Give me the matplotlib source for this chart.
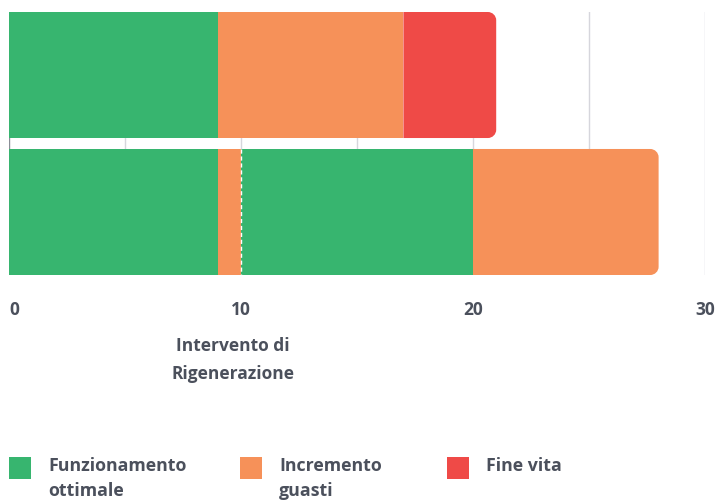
import matplotlib
matplotlib.use("Agg")
import matplotlib.pyplot as plt
from matplotlib.path import Path
from matplotlib.patches import PathPatch, Rectangle
import matplotlib.transforms as mtransforms

plt.rcParams["font.family"] = ["Open Sans", "DejaVu Sans"]

# ---- data ----
rows = ["Senza rigenerazione", "Con rigenerazione"]
# (start, length, category) per segment
segments = [
    [(0, 9, 0), (9, 8, 1), (17, 4, 2)],
    [(0, 9, 0), (9, 1, 1), (10, 10, 0), (20, 8, 1)],
]
categories = ["Funzionamento\nottimale", "Incremento\nguasti", "Fine vita"]
colors = ["#37b56f", "#f69159", "#ef4a47"]
regen_x = 10
regen_label = "Intervento di\nRigenerazione"
tick_vals = [0, 10, 20, 30]

TXT = "#4b505c"
GRID = "#d6d6dc"
H = 0.92
FW = "bold"
FS = 12.5

fig = plt.figure(figsize=(7.15, 5.02), dpi=100)
ax = fig.add_axes([9 / 715, 1 - 276 / 502, 696 / 715, 263 / 502])
ax.set_xlim(0, 30)
ax.set_ylim(1 + 0.46, -0.46)


def rounded_end(x0, w, yc, h, rx=0.36, ry=0.06):
    x1 = x0 + w
    y0, y1 = yc - h / 2, yc + h / 2
    k = 0.45
    verts = [(x0, y0), (x1 - rx, y0),
             (x1 - rx * k, y0), (x1, y0 + ry * k), (x1, y0 + ry),
             (x1, y1 - ry),
             (x1, y1 - ry * k), (x1 - rx * k, y1), (x1 - rx, y1),
             (x0, y1), (x0, y0)]
    codes = [Path.MOVETO, Path.LINETO,
             Path.CURVE4, Path.CURVE4, Path.CURVE4,
             Path.LINETO,
             Path.CURVE4, Path.CURVE4, Path.CURVE4,
             Path.LINETO, Path.CLOSEPOLY]
    return Path(verts, codes)


for i, segs in enumerate(segments):
    for j, (start, length, cat) in enumerate(segs):
        if j == len(segs) - 1:
            ax.add_patch(PathPatch(rounded_end(start, length, i, H),
                                   facecolor=colors[cat], edgecolor="none", zorder=2))
        else:
            ax.barh(i, length, left=start, height=H, color=colors[cat],
                    edgecolor="none", zorder=2)

# regeneration marker on second bar
ax.vlines(regen_x, 1 - H / 2, 1 + H / 2, color="white", lw=1.0,
          linestyles=(0, (3, 2)), zorder=3)

# grid
for gx in range(0, 31, 5):
    ax.axvline(gx, color="#8a8d96" if gx == 0 else GRID, lw=1.0, zorder=1)

for s in ax.spines.values():
    s.set_visible(False)
ax.set_yticks([])
ax.set_xticks(tick_vals)
ax.set_xticklabels([str(v) for v in tick_vals])
ax.tick_params(axis="x", length=0, pad=18, labelsize=FS, labelcolor=TXT)
for lbl in ax.get_xticklabels():
    lbl.set_fontweight(FW)
ax.get_xticklabels()[0].set_horizontalalignment("left")

trans = mtransforms.blended_transform_factory(ax.transData, fig.transFigure)
ax.text(regen_x - 0.35, 1 - 337 / 502, regen_label, transform=trans, ha="center",
        va="top", fontsize=FS, fontweight=FW, color=TXT, linespacing=1.7)

# legend
leg_x = [9, 240, 447]
for x, lab, c in zip(leg_x, categories, colors):
    fig.patches.append(Rectangle((x / 715, 1 - 480 / 502), 22 / 715, 22 / 502,
                                 transform=fig.transFigure, facecolor=c,
                                 edgecolor="none"))
    fig.text((x + 39) / 715, 1 - 457 / 502, lab, ha="left", va="top",
             fontsize=12.8, fontweight=FW, color=TXT, linespacing=1.5)

fig.savefig("out.png", dpi=100)
